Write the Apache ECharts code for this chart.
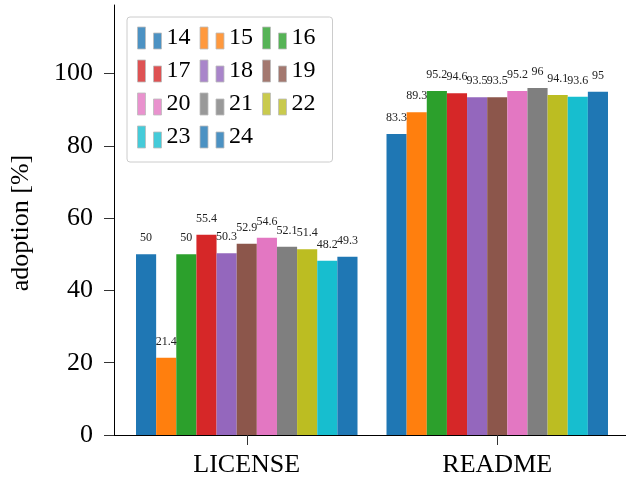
<!DOCTYPE html>
<html>
<head>
<meta charset="utf-8">
<script src="https://cdn.jsdelivr.net/npm/echarts@6/dist/echarts.min.js"></script>
<style>html,body{margin:0;padding:0;background:#fff;}#c{width:626px;height:479px;}</style>
</head>
<body>
<div id="c"></div>
<script>
const categories = ['LICENSE', 'README'];
const years = ['14', '15', '16', '17', '18', '19', '20', '21', '22', '23', '24'];
const licenseValues = [50, 21.4, 50, 55.4, 50.3, 52.9, 54.6, 52.1, 51.4, 48.2, 49.3];
const readmeValues = [83.3, 89.3, 95.2, 94.6, 93.5, 93.5, 95.2, 96, 94.1, 93.6, 95];
const yTicks = [0, 20, 40, 60, 80, 100];
const colors = ['#1f77b4', '#ff7f0e', '#2ca02c', '#d62728', '#9467bd', '#8c564b', '#e377c2', '#7f7f7f', '#bcbd22', '#17becf', '#1f77b4'];

const FONT = '"Liberation Serif", "DejaVu Serif", serif';
const chart = echarts.init(document.getElementById('c'), null, {renderer: 'canvas'});

const series = years.map((y, i) => ({
  name: y,
  type: 'bar',
  data: [[0, licenseValues[i]], [1, readmeValues[i]]],
  itemStyle: {color: colors[i]},
  barGap: '0%',
  barCategoryGap: 29,
  label: {
    show: true,
    position: 'top',
    distance: 10,
    fontFamily: FONT,
    fontSize: 12,
    color: '#222',
    formatter: p => String(p.value[1])
  }
}));

chart.setOption({
  animation: false,
  color: colors,
  grid: {left: 113, right: 0, top: 5, bottom: 44, containLabel: false},
  xAxis: {
    type: 'value',
    min: -0.53,
    max: 1.514,
    splitLine: {show: false},
    axisLine: {show: true, onZero: false, lineStyle: {color: '#000', width: 1}},
    axisTick: {show: true, length: 10, customValues: [0, 1], lineStyle: {color: '#333'}},
    axisLabel: {
      customValues: [0, 1],
      formatter: v => categories[Math.round(v)],
      fontFamily: FONT, fontSize: 26, color: '#000', margin: 17
    }
  },
  yAxis: {
    type: 'value',
    min: 0,
    max: 119,
    name: 'adoption [%]',
    nameLocation: 'middle',
    nameRotate: 90,
    nameGap: 80,
    nameTextStyle: {fontFamily: FONT, fontSize: 26, color: '#000', padding: [0, 6, 0, 0]},
    splitLine: {show: false},
    axisLine: {show: true, onZero: false, lineStyle: {color: '#000', width: 1}},
    axisTick: {show: true, length: 10, customValues: yTicks, lineStyle: {color: '#333'}},
    axisLabel: {customValues: yTicks, fontFamily: FONT, fontSize: 26, color: '#000', margin: 21}
  },
  legend: {
    data: years,
    left: 127,
    top: 17,
    width: 190,
    orient: 'horizontal',
    itemGap: 9,
    itemWidth: 24,
    itemHeight: 22,
    padding: [9, 17, 13, 10],
    borderColor: '#ccc',
    borderWidth: 1,
    borderRadius: 3,
    backgroundColor: '#fff',
    icon: 'path://M0,0h8v22h-8z M16,6h8v16h-8z',
    itemStyle: {opacity: 0.8, borderColor: '#bbb', borderWidth: 1},
    textStyle: {fontFamily: FONT, fontSize: 24, color: '#000'},
    selectedMode: false
  },
  series: series
});
</script>
</body>
</html>
